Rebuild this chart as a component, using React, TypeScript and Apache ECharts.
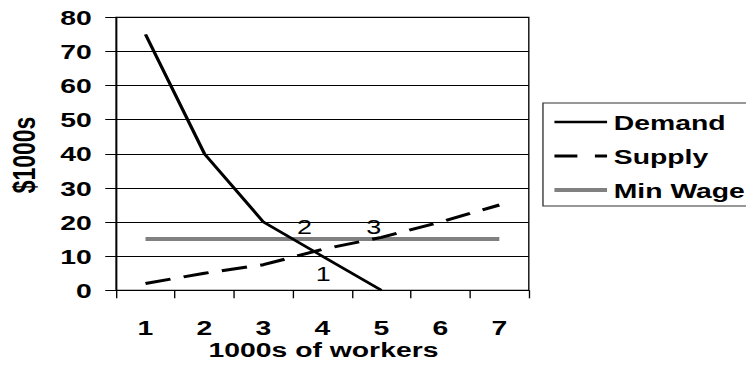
import React, { useEffect, useRef } from "react";
import * as echarts from "echarts";

const categories = ["1", "2", "3", "4", "5", "6", "7"];
const demand = [75, 40, 20, 10, 0, null, null];
const supply = [2, 5, 7.5, 12, 15.5, 20, 25];
const minWage = [15, 15, 15, 15, 15, 15, 15];
const seriesNames = ["Demand", "Supply", "Min Wage"];
const yMin = 0;
const yMax = 80;
const yStep = 10;
const xTitle = "1000s of workers";
const yTitle = "$1000s";
const pointLabels = ["1", "2", "3"];

const W = 553;
const H = 381;
const S = 746 / W;
const FONT = "'Liberation Sans', Arial, sans-serif";

export default function App() {
  const ref = useRef<HTMLDivElement>(null);
  useEffect(() => {
    if (!ref.current) return;
    const chart = echarts.init(ref.current, null, { renderer: "svg", width: W, height: H });
    const bold = { fontFamily: FONT, fontWeight: "bold" as const, fontSize: 21, color: "#000" };
    chart.setOption({
      animation: false,
      backgroundColor: "#fff",
      grid: {
        left: 86,
        right: 161,
        top: 17.3,
        bottom: 90.7,
        show: true,
        borderColor: "#000",
        borderWidth: 1,
        backgroundColor: "transparent",
      },
      legend: {
        orient: "vertical",
        left: 402.5,
        top: 103,
        padding: [8.5, 10, 5.5, 6.5],
        itemWidth: 39,
        itemHeight: 14,
        itemGap: 13,
        borderWidth: 0,
        itemStyle: { opacity: 0 },
        textStyle: { ...bold, lineHeight: 21 },
        data: [
          { name: seriesNames[0], lineStyle: { width: 2.5 } },
          { name: seriesNames[1], lineStyle: { type: [17, 13], width: 3 } },
          { name: seriesNames[2], lineStyle: { width: 4 } },
        ],
      },
      xAxis: {
        type: "category",
        data: categories,
        boundaryGap: true,
        axisLine: { lineStyle: { color: "#000", width: 1 } },
        axisTick: { show: true, length: 8, lineStyle: { color: "#000", width: 1 }, alignWithLabel: false },
        axisLabel: { ...bold, margin: 29.5, lineHeight: 16 },
        splitLine: { show: false },
      },
      yAxis: {
        type: "value",
        min: yMin,
        max: yMax,
        interval: yStep,
        axisLine: { show: true, lineStyle: { color: "#000", width: 1 } },
        axisTick: { show: true, length: 8, lineStyle: { color: "#000", width: 1 } },
        axisLabel: { ...bold, margin: 18 },
        splitLine: { show: true, lineStyle: { color: "#000", width: 1 } },
      },
      series: [
        {
          name: seriesNames[0],
          type: "line",
          data: demand,
          symbol: "none",
          connectNulls: false,
          lineStyle: { color: "#000", width: 2.5 },
          itemStyle: { color: "#000" },
          z: 3,
        },
        {
          name: seriesNames[1],
          type: "line",
          data: supply,
          symbol: "none",
          lineStyle: { color: "#000", width: 3, type: [19, 10] },
          itemStyle: { color: "#000" },
          z: 3,
        },
        {
          name: seriesNames[2],
          type: "line",
          data: minWage,
          symbol: "none",
          lineStyle: { color: "#808080", width: 4 },
          itemStyle: { color: "#808080" },
          z: 2,
        },
      ],
      graphic: [
        {
          type: "rect",
          shape: { x: 402.5, y: 103, width: 200, height: 103 },
          style: { fill: "none", stroke: "#333", lineWidth: 1 },
          silent: true,
        },
        {
          type: "text",
          x: 17.8,
          y: 155,
          rotation: Math.PI / 2,
          style: { text: yTitle, align: "center", verticalAlign: "middle", font: `bold 23px ${FONT}`, fill: "#000" },
        },
        {
          type: "text",
          x: 239.8,
          y: 349.5,
          style: { text: xTitle, align: "center", verticalAlign: "middle", font: `bold 21px ${FONT}`, lineHeight: 18, fill: "#000" },
        },
        {
          type: "text",
          x: 239.7,
          y: 274.3,
          z: 10,
          style: { text: pointLabels[0], align: "center", verticalAlign: "middle", font: `20px ${FONT}`, fill: "#000" },
        },
        {
          type: "text",
          x: 225.7,
          y: 227,
          z: 10,
          style: { text: pointLabels[1], align: "center", verticalAlign: "middle", font: `20px ${FONT}`, fill: "#000" },
        },
        {
          type: "text",
          x: 277,
          y: 227,
          z: 10,
          style: { text: pointLabels[2], align: "center", verticalAlign: "middle", font: `20px ${FONT}`, fill: "#000" },
        },
      ],
    });
    return () => chart.dispose();
  }, []);
  return (
    <div style={{ position: "fixed", left: 0, top: 0, width: 746, height: 381, overflow: "hidden", background: "#fff" }}>
      <div
        ref={ref}
        style={{ width: W, height: H, transform: `scaleX(${S})`, transformOrigin: "0 0" }}
      />
    </div>
  );
}
